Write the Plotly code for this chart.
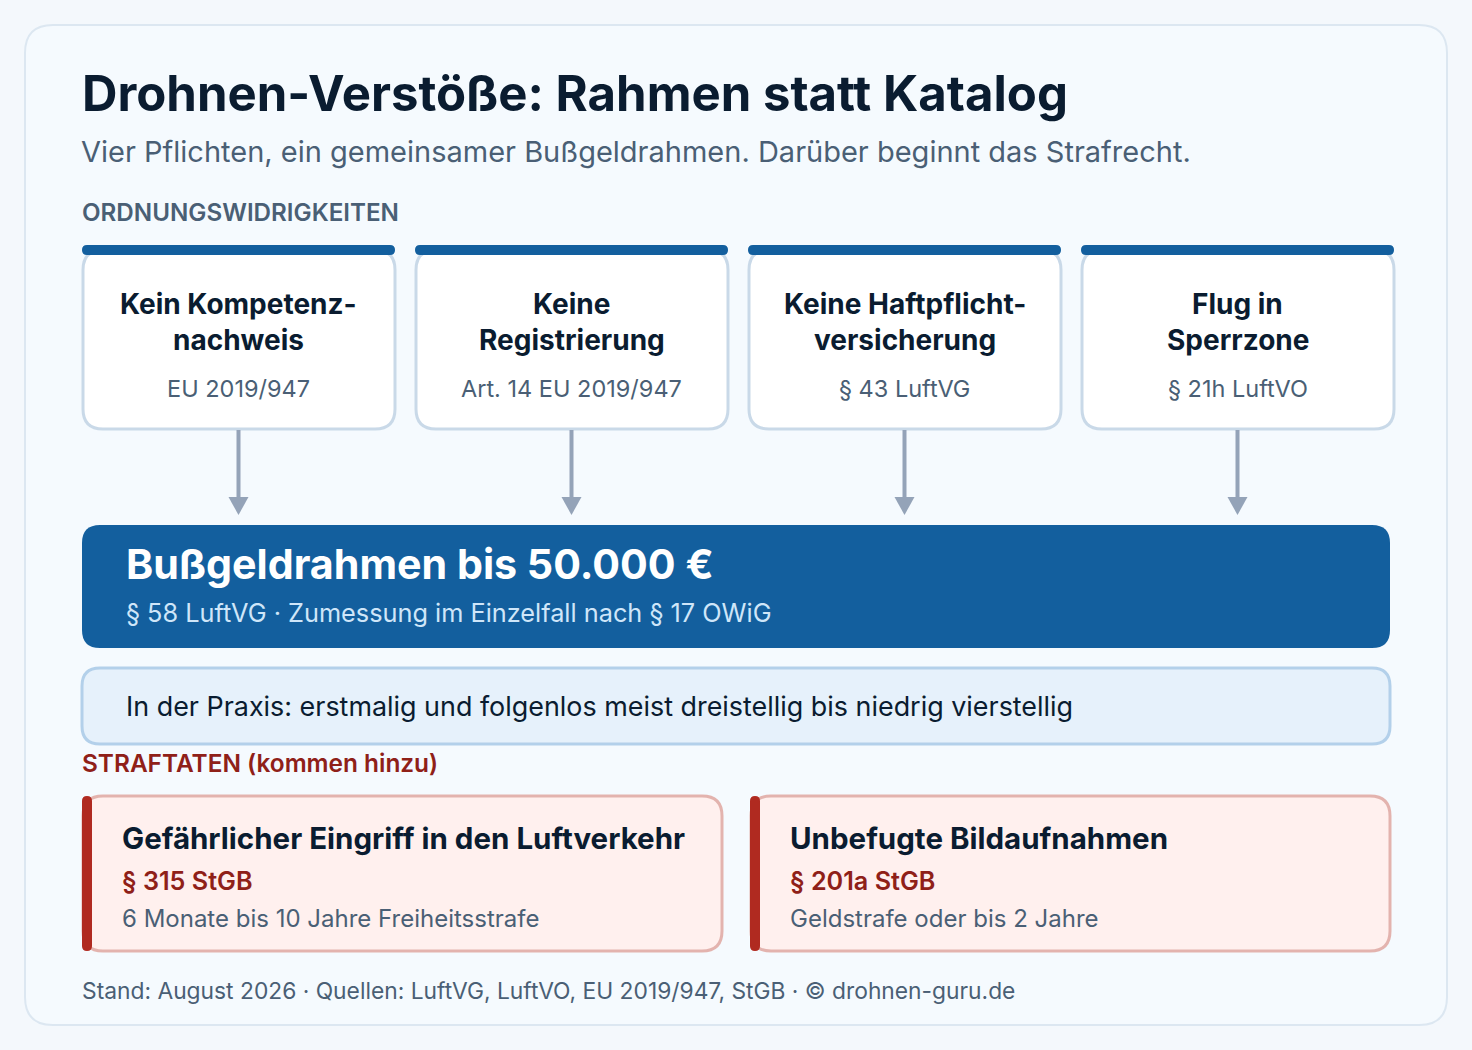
import plotly.graph_objects as go

TITLE = "Drohnen-Verstöße: Rahmen statt Katalog"
SUBTITLE = "Vier Pflichten, ein gemeinsamer Bußgeldrahmen. Darüber beginnt das Strafrecht."
SECTION_A = "ORDNUNGSWIDRIGKEITEN"
SECTION_B = "STRAFTATEN (kommen hinzu)"
DUTY_LINE1 = ["Kein Kompetenz-", "Keine", "Keine Haftpflicht-", "Flug in"]
DUTY_LINE2 = ["nachweis", "Registrierung", "versicherung", "Sperrzone"]
DUTY_LAW = ["EU 2019/947", "Art. 14 EU 2019/947", "§ 43 LuftVG", "§ 21h LuftVO"]
FRAME_HEAD = "Bußgeldrahmen bis 50.000 €"
FRAME_SUB = "§ 58 LuftVG · Zumessung im Einzelfall nach § 17 OWiG"
PRACTICE = "In der Praxis: erstmalig und folgenlos meist dreistellig bis niedrig vierstellig"
CRIME_HEAD = ["Gefährlicher Eingriff in den Luftverkehr", "Unbefugte Bildaufnahmen"]
CRIME_LAW = ["§ 315 StGB", "§ 201a StGB"]
CRIME_PENALTY = ["6 Monate bis 10 Jahre Freiheitsstrafe", "Geldstrafe oder bis 2 Jahre"]
FOOTER = "Stand: August 2026 · Quellen: LuftVG, LuftVO, EU 2019/947, StGB · © drohnen-guru.de"

BODY = "Inter"
HEAD = "Inter"
INK = "#0a1c30"
SLATE = "#4a5f75"
BLUE = "#135f9e"
RED = "#8f2018"


def rr(x0, y0, x1, y1, r):
    return (f"M{x0+r},{y0} L{x1-r},{y0} Q{x1},{y0} {x1},{y0+r} L{x1},{y1-r} Q{x1},{y1} {x1-r},{y1} "
            f"L{x0+r},{y1} Q{x0},{y1} {x0},{y1-r} L{x0},{y0+r} Q{x0},{y0} {x0+r},{y0} Z")


shapes = []
annots = []


def box(x0, y0, x1, y1, r, fill, line=None, lw=0):
    shapes.append(dict(type="path", xref="x", yref="y", path=rr(x0, y0, x1, y1, r), fillcolor=fill,
                       line=dict(color=line or fill, width=lw), layer="below"))


def txt(x, y, s, size, color, weight=400, anchor="left", family=BODY):
    annots.append(dict(x=x, y=y, xref="x", yref="y", text=s, showarrow=False, xanchor=anchor, yanchor="middle",
                       borderpad=0, borderwidth=0,
                       font=dict(family=family, size=size, color=color, weight=weight)))


box(25, 25, 1447, 1025, 28, "#f5fafe", "#dce7f1", 2)

txt(82, 93, TITLE, 49.1, INK, 700, family=HEAD)
txt(81, 151, SUBTITLE, 29, SLATE)
txt(82, 212, SECTION_A, 24.2, SLATE, 600)

card_left = [82, 415, 748, 1081]
for i, x in enumerate(card_left):
    cx = x + 156.5
    box(x + 1, 250, x + 313, 429, 20, "#ffffff", "#c9d9e8", 3)
    box(x, 245, x + 313, 255, 5, BLUE)
    txt(cx, 304, DUTY_LINE1[i], 28, INK, 700, "center", HEAD)
    txt(cx, 340, DUTY_LINE2[i], 28, INK, 700, "center", HEAD)
    txt(cx, 388, DUTY_LAW[i], 23.5, SLATE, 400, "center")
    shapes.append(dict(type="line", xref="x", yref="y", x0=cx, x1=cx, y0=430, y1=498,
                       line=dict(color="#94a3b8", width=4), layer="below"))
    shapes.append(dict(type="path", xref="x", yref="y", path=f"M{cx-10},497 L{cx+10},497 L{cx},515 Z",
                       fillcolor="#94a3b8", line=dict(width=0), layer="below"))

box(82, 525, 1390, 648, 18, BLUE)
txt(126, 564, FRAME_HEAD, 41.2, "#ffffff", 700, family=HEAD)
txt(125.5, 612, FRAME_SUB, 25.3, "#cfe6f9")

box(82, 668, 1390, 744, 18, "#e6f1fb", "#b3d0ea", 3)
txt(126, 706, PRACTICE, 26.9, INK)

txt(82, 763, SECTION_B, 24.4, RED, 600)

crime_left = [82, 750]
for i, x in enumerate(crime_left):
    box(x + 1, 796, x + 640, 951, 20, "#fff0ee", "#e3b3ae", 3)
    box(x, 796, x + 10, 951, 5, "#b02a20")
    txt(x + 40, 838, CRIME_HEAD[i], 29.5, INK, 700, family=HEAD)
    txt(x + 40, 881, CRIME_LAW[i], 25.2, RED, 600)
    txt(x + 40, 918, CRIME_PENALTY[i], 24, SLATE)

txt(82, 990, FOOTER, 22.8, SLATE)

fig = go.Figure()
fig.update_layout(
    width=1472, height=1050, margin=dict(l=0, r=0, t=0, b=0),
    paper_bgcolor="#f4f8fc", plot_bgcolor="#f4f8fc", showlegend=False,
    xaxis=dict(range=[0, 1472], visible=False, fixedrange=True),
    yaxis=dict(range=[1050, 0], visible=False, fixedrange=True),
    shapes=shapes, annotations=annots,
)
fig.write_html("out.html", post_script="document.body.style.margin='0';document.body.style.background='#f4f8fc';",
               config={"displayModeBar": False})
